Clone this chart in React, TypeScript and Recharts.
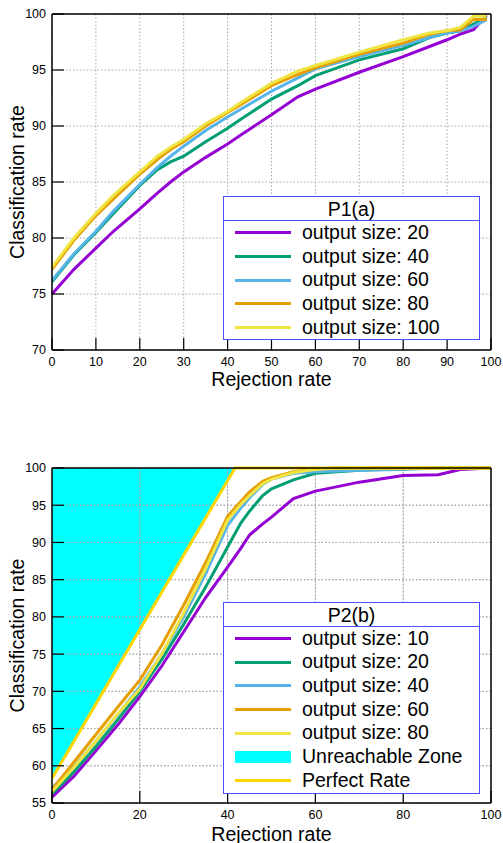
import React from 'react';
import { ComposedChart, Line, Area, XAxis, YAxis, CartesianGrid, Legend, ReferenceLine } from 'recharts';

const FONT = '"Liberation Sans", Arial, Helvetica, sans-serif';

// ---------- Chart P1(a) ----------
const p1Rejection = [0, 5, 10, 14, 20, 24, 27, 30, 35, 40, 43, 50, 56, 60, 70, 80, 86, 90, 93, 96, 99];
const p1Out20 = [75.0, 77.2, 79.1, 80.6, 82.6, 84.0, 85.0, 85.9, 87.2, 88.4, 89.2, 91.0, 92.6, 93.3, 94.8, 96.2, 97.1, 97.7, 98.2, 98.6, 99.9];
const p1Out40 = [76.1, 78.5, 80.5, 82.2, 84.7, 86.1, 86.8, 87.3, 88.6, 89.8, 90.6, 92.4, 93.6, 94.5, 95.9, 96.9, 97.9, 98.3, 98.5, 99.1, 99.7];
const p1Out60 = [76.2, 78.6, 80.6, 82.4, 84.8, 86.3, 87.3, 88.2, 89.6, 90.8, 91.5, 93.1, 94.3, 95.1, 96.2, 97.2, 97.9, 98.3, 98.5, 98.9, 99.5];
const p1Out80 = [77.2, 79.8, 82.0, 83.5, 85.7, 87.0, 87.9, 88.6, 90.0, 91.2, 91.9, 93.6, 94.6, 95.2, 96.4, 97.4, 98.2, 98.5, 98.6, 99.5, 99.5];
const p1Out100 = [77.4, 80.0, 82.2, 83.8, 85.9, 87.3, 88.1, 88.8, 90.2, 91.3, 92.1, 93.8, 94.9, 95.4, 96.6, 97.7, 98.3, 98.5, 98.8, 99.8, 99.8];
const p1XTicks = [0, 10, 20, 30, 40, 50, 60, 70, 80, 90, 100];
const p1YTicks = [70, 75, 80, 85, 90, 95, 100];
const p1Labels = ['output size: 20', 'output size: 40', 'output size: 60', 'output size: 80', 'output size: 100'];

// ---------- Chart P2(b) ----------
const p2Rejection = [0, 5, 10, 15, 20, 25, 30, 35, 40, 43, 45, 48, 50, 55, 60, 65, 70, 80, 88, 93, 100];
const p2Out10 = [55.8, 58.6, 62.0, 65.5, 69.3, 73.4, 78.0, 82.6, 86.7, 89.2, 91.0, 92.5, 93.4, 95.9, 96.9, 97.5, 98.1, 99.0, 99.1, 99.8, 100];
const p2Out20 = [56.2, 59.2, 62.6, 66.2, 70.0, 74.3, 79.0, 84.0, 89.4, 92.6, 94.2, 96.3, 97.2, 98.4, 99.3, 99.5, 99.7, 99.9, 100, 100, 100];
const p2Out40 = [57.0, 59.9, 63.3, 66.9, 70.6, 75.0, 80.0, 85.8, 92.3, 94.6, 96.0, 97.8, 98.5, 99.3, 99.5, 99.6, 99.7, 99.8, 100, 100, 100];
const p2Out60 = [56.8, 60.5, 64.2, 67.9, 71.5, 76.2, 81.6, 87.3, 93.5, 95.5, 96.8, 98.2, 98.7, 99.5, 99.9, 100, 100, 100, 100, 100, 100];
const p2Out80 = [56.5, 59.8, 63.3, 67.0, 70.3, 75.0, 80.5, 86.5, 93.0, 95.1, 96.3, 97.9, 98.5, 99.4, 99.8, 100, 100, 100, 100, 100, 100];
const perfectX = [0, 41.7, 100];
const perfectY = [58.3, 100, 100];
const zoneX = [0, 41.7];
const zoneLow = [58.3, 100];
const zoneHigh = [100, 100];
const p2XTicks = [0, 20, 40, 60, 80, 100];
const p2YTicks = [55, 60, 65, 70, 75, 80, 85, 90, 95, 100];
const p2Labels = ['output size: 10', 'output size: 20', 'output size: 40', 'output size: 60', 'output size: 80'];

const COLORS = ['#9400D3', '#009E73', '#56B4E9', '#E69F00', '#F0E442'];
const ZONE_COLOR = '#00FFFF';
const PERFECT_COLOR = '#FFD700';
const LEGEND_BORDER = '#4b4bff';
const GRID_COLOR = '#a8a8a8';
const GRID_DASH = '1.5 2';

const p1Rows = p1Rejection.map((x, i) => ({
  x, s0: p1Out20[i], s1: p1Out40[i], s2: p1Out60[i], s3: p1Out80[i], s4: p1Out100[i],
}));
const p2Rows = p2Rejection.map((x, i) => ({
  x, s0: p2Out10[i], s1: p2Out20[i], s2: p2Out40[i], s3: p2Out60[i], s4: p2Out80[i],
}));
const perfectRows = perfectX.map((x, i) => ({ x, perfect: perfectY[i] }));
const zoneRows = zoneX.map((x, i) => ({ x, zone: [zoneLow[i], zoneHigh[i]] }));

type LegendItem = { label: string; color: string; kind: 'line' | 'area' };

function LegendBox({ title, items }: { title: string; items: LegendItem[] }) {
  return (
    <div
      style={{
        width: 255,
        border: `1px solid ${LEGEND_BORDER}`,
        background: '#fff',
        fontFamily: FONT,
        color: '#000',
        boxSizing: 'content-box',
      }}
    >
      <div
        style={{
          height: 23,
          lineHeight: '24px',
          textAlign: 'center',
          fontSize: 19.5,
          borderBottom: `1px solid ${LEGEND_BORDER}`,
        }}
      >
        {title}
      </div>
      {items.map((it) => (
        <div key={it.label} style={{ height: 23.7, display: 'flex', alignItems: 'center' }}>
          <div
            style={{
              marginLeft: 11,
              width: 56,
              height: it.kind === 'area' ? 12 : 3,
              background: it.color,
              flex: 'none',
            }}
          />
          <span style={{ marginLeft: 11, fontSize: 19.5, lineHeight: '23.7px', whiteSpace: 'nowrap' }}>
            {it.label}
          </span>
        </div>
      ))}
    </div>
  );
}

const YTitle = (props: any) => {
  const vb = props.viewBox || { x: 0, y: 0, width: 0, height: 0 };
  const cy = vb.y + vb.height / 2;
  const bx = vb.x + 24;
  return (
    <text
      x={bx}
      y={cy}
      transform={`rotate(-90 ${bx} ${cy})`}
      textAnchor="middle"
      fontSize={19.5}
      fontFamily={FONT}
      fill="#000"
    >
      Classification rate
    </text>
  );
};

const tickStyle = { fill: '#000', fontSize: 12.5, fontFamily: FONT };
const axisLineStyle = { stroke: '#000', strokeWidth: 1.5 };
const tickLineStyle = { stroke: '#000', strokeWidth: 1.2 };

function P1Chart() {
  const items: LegendItem[] = p1Labels.map((l, i) => ({ label: l, color: COLORS[i], kind: 'line' }));
  return (
    <ComposedChart width={503} height={400} data={p1Rows} margin={{ top: 13, right: 11, bottom: 0, left: 0 }}>
      <CartesianGrid stroke={GRID_COLOR} strokeDasharray={GRID_DASH} strokeWidth={1} />
      <XAxis
        dataKey="x"
        type="number"
        domain={[0, 100]}
        ticks={p1XTicks}
        interval={0}
        height={50}
        tick={tickStyle}
        tickSize={-12}
        tickMargin={19}
        axisLine={axisLineStyle}
        tickLine={tickLineStyle}
        label={{ value: 'Rejection rate', position: 'insideBottom', offset: 14, fontSize: 19.5, fontFamily: FONT, fill: '#000' }}
      />
      <XAxis
        xAxisId="top"
        orientation="top"
        dataKey="x"
        type="number"
        domain={[0, 100]}
        ticks={p1XTicks}
        interval={0}
        height={1}
        tick={false}
        tickSize={-12}
        axisLine={axisLineStyle}
        tickLine={tickLineStyle}
      />
      <YAxis
        type="number"
        domain={[70, 100]}
        ticks={p1YTicks}
        interval={0}
        width={52}
        tick={tickStyle}
        tickSize={-12}
        tickMargin={18}
        axisLine={axisLineStyle}
        tickLine={tickLineStyle}
        label={<YTitle />}
      />
      <YAxis
        yAxisId="right"
        orientation="right"
        type="number"
        domain={[70, 100]}
        ticks={p1YTicks}
        interval={0}
        width={1}
        tick={false}
        tickSize={-12}
        axisLine={axisLineStyle}
        tickLine={tickLineStyle}
      />
      {['s0', 's1', 's2', 's3', 's4'].map((k, i) => (
        <Line
          key={k}
          dataKey={k}
          name={p1Labels[i]}
          type="linear"
          stroke={COLORS[i]}
          strokeWidth={3}
          dot={false}
          activeDot={false}
          isAnimationActive={false}
        />
      ))}
      <Legend
        layout="horizontal"
        verticalAlign="middle"
        align="center"
        wrapperStyle={{ left: 223, top: 196, width: 257 }}
        content={() => <LegendBox title="P1(a)" items={items} />}
      />
    </ComposedChart>
  );
}

function P2Chart() {
  const items: LegendItem[] = [
    ...p2Labels.map((l, i) => ({ label: l, color: COLORS[i], kind: 'line' as const })),
    { label: 'Unreachable Zone', color: ZONE_COLOR, kind: 'area' },
    { label: 'Perfect Rate', color: PERFECT_COLOR, kind: 'line' },
  ];
  const gridProps: any = { zIndex: 150 };
  const areaProps: any = { zIndex: 50 };
  return (
    <ComposedChart width={503} height={443} data={p2Rows} margin={{ top: 67, right: 11, bottom: 0, left: 0 }}>
      <Area
        {...areaProps}
        data={zoneRows}
        dataKey="zone"
        type="linear"
        fill={ZONE_COLOR}
        fillOpacity={1}
        stroke="none"
        isAnimationActive={false}
        activeDot={false}
      />
      <CartesianGrid {...gridProps} stroke={GRID_COLOR} strokeDasharray={GRID_DASH} strokeWidth={1} />
      {p2YTicks.slice(1, -1).map((v) => (
        <ReferenceLine {...gridProps} key={`gy${v}`} y={v} stroke={GRID_COLOR} strokeDasharray={GRID_DASH} strokeWidth={1} />
      ))}
      {p2XTicks.slice(1, -1).map((v) => (
        <ReferenceLine {...gridProps} key={`gx${v}`} x={v} stroke={GRID_COLOR} strokeDasharray={GRID_DASH} strokeWidth={1} />
      ))}
      <XAxis
        dataKey="x"
        type="number"
        domain={[0, 100]}
        ticks={p2XTicks}
        interval={0}
        height={40}
        tick={tickStyle}
        tickSize={-12}
        tickMargin={19}
        axisLine={axisLineStyle}
        tickLine={tickLineStyle}
        label={{ value: 'Rejection rate', position: 'insideBottom', offset: 2.5, fontSize: 19.5, fontFamily: FONT, fill: '#000' }}
      />
      <XAxis
        xAxisId="top"
        orientation="top"
        dataKey="x"
        type="number"
        domain={[0, 100]}
        ticks={p2XTicks}
        interval={0}
        height={1}
        tick={false}
        tickSize={-12}
        axisLine={axisLineStyle}
        tickLine={tickLineStyle}
      />
      <YAxis
        type="number"
        domain={[55, 100]}
        ticks={p2YTicks}
        interval={0}
        width={52}
        tick={tickStyle}
        tickSize={-12}
        tickMargin={18}
        axisLine={axisLineStyle}
        tickLine={tickLineStyle}
        label={<YTitle />}
      />
      <YAxis
        yAxisId="right"
        orientation="right"
        type="number"
        domain={[55, 100]}
        ticks={p2YTicks}
        interval={0}
        width={1}
        tick={false}
        tickSize={-12}
        axisLine={axisLineStyle}
        tickLine={tickLineStyle}
      />
      {['s0', 's1', 's2', 's3', 's4'].map((k, i) => (
        <Line
          key={k}
          dataKey={k}
          name={p2Labels[i]}
          type="linear"
          stroke={COLORS[i]}
          strokeWidth={3}
          dot={false}
          activeDot={false}
          isAnimationActive={false}
        />
      ))}
      <Line
        data={perfectRows}
        dataKey="perfect"
        name="Perfect Rate"
        type="linear"
        stroke={PERFECT_COLOR}
        strokeWidth={3}
        dot={false}
        activeDot={false}
        isAnimationActive={false}
      />
      <Legend
        layout="horizontal"
        verticalAlign="middle"
        align="center"
        wrapperStyle={{ left: 223, top: 201.7, width: 257 }}
        content={() => <LegendBox title="P2(b)" items={items} />}
      />
    </ComposedChart>
  );
}

export default function App() {
  return (
    <div style={{ position: 'absolute', left: 0, top: 0, width: 503, height: 843, background: '#fff' }}>
      <P1Chart />
      <P2Chart />
    </div>
  );
}
